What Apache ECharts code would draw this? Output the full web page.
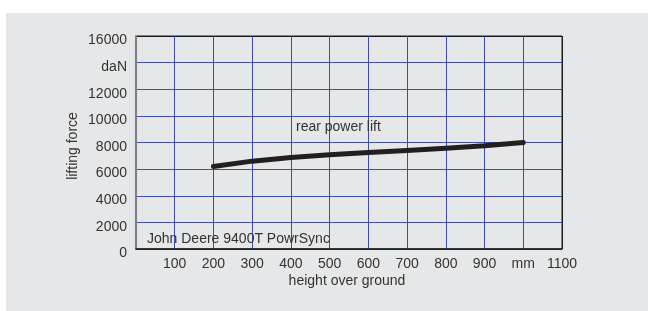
<!DOCTYPE html>
<html>
<head>
<meta charset="utf-8">
<script src="https://cdn.jsdelivr.net/npm/echarts@6/dist/echarts.min.js"></script>
<style>
    html, body { margin: 0; padding: 0; background: #ffffff; }
</style>
</head>
<body>
<div id="main" style="width: 648px; height: 311px;"></div>
<script type="text/javascript">
    // lifting force curve
    var heights = [200, 300, 400, 500, 600, 700, 800, 900, 1000];
    var forces = [6200, 6600, 6880, 7080, 7240, 7390, 7570, 7750, 8000];
    // axis labels (1000 and 14000 carry the units)
    var xLabels = {0: '', 100: '100', 200: '200', 300: '300', 400: '400', 500: '500', 600: '600',
        700: '700', 800: '800', 900: '900', 1000: 'mm', 1100: '1100'};
    var yLabels = {0: '0', 2000: '2000', 4000: '4000', 6000: '6000', 8000: '8000',
        10000: '10000', 12000: '12000', 14000: 'daN', 16000: '16000'};

    var font = '"Liberation Sans", Arial, sans-serif';
    var textColor = '#333333';
    var gridBlue = '#3d4da8';
    var border = '#1a1a1a';

    // split line colours in turn: last line sits on the black frame
    var xLineColors = [];
    for (var i = 0; i < 11; i++) xLineColors.push(gridBlue);
    xLineColors.push(border);
    var yLineColors = [];
    for (var j = 0; j < 8; j++) yLineColors.push(gridBlue);
    yLineColors.push(border);

    var myChart = echarts.init(document.getElementById('main'));
    var option = {
        animation: false,
        textStyle: {fontFamily: font},
        grid: {
            left: 136,
            top: 36,
            right: 86,
            bottom: 62,
            show: true,
            borderColor: border,
            borderWidth: 1,
            backgroundColor: 'transparent'
        },
        graphic: [
            {
                type: 'rect', z: -10, silent: true,
                shape: {x: 6, y: 13, width: 642, height: 298},
                style: {fill: '#e6e7e8'}
            },
            {
                type: 'text', z: 10, x: 296, y: 127,
                style: {text: 'rear power lift', font: '14px ' + font, fill: textColor,
                    textVerticalAlign: 'middle'}
            },
            {
                type: 'text', z: 10, x: 147, y: 239,
                style: {text: 'John Deere 9400T PowrSync', font: '14px ' + font, fill: textColor,
                    textVerticalAlign: 'middle'}
            },
            {
                type: 'text', z: 10, x: 73, y: 146, rotation: Math.PI / 2,
                style: {text: 'lifting force', font: '14px ' + font, fill: textColor,
                    textAlign: 'center', textVerticalAlign: 'middle'}
            },
            {
                type: 'text', z: 10, x: 347, y: 281,
                style: {text: 'height over ground', font: '14px ' + font, fill: textColor,
                    textAlign: 'center', textVerticalAlign: 'middle'}
            }
        ],
        xAxis: {
            type: 'value',
            min: 0,
            max: 1100,
            interval: 100,
            axisLine: {show: true, lineStyle: {color: border, width: 1.5}},
            axisTick: {show: false},
            axisLabel: {
                margin: 8,
                fontSize: 14,
                color: textColor,
                fontFamily: font,
                showMaxLabel: true,
                formatter: function (v) { return xLabels[v] !== undefined ? xLabels[v] : ''; }
            },
            splitLine: {show: true, lineStyle: {color: xLineColors, width: 1}}
        },
        yAxis: {
            type: 'value',
            min: 0,
            max: 16000,
            interval: 2000,
            axisLine: {show: true, lineStyle: {color: '#808080', width: 2}},
            axisTick: {show: false},
            axisLabel: {
                margin: 9,
                fontSize: 14,
                color: textColor,
                fontFamily: font,
                verticalAlign: 'top',
                lineHeight: 9,
                formatter: function (v) { return yLabels[v] !== undefined ? yLabels[v] : ''; }
            },
            splitLine: {show: true, lineStyle: {color: yLineColors, width: 1}}
        },
        series: [
            {
                name: 'rear power lift',
                type: 'line',
                showSymbol: false,
                symbol: 'none',
                z: 5,
                lineStyle: {color: '#231f20', width: 5, cap: 'round', join: 'round'},
                data: heights.map(function (h, i) { return [h, forces[i]]; })
            }
        ]
    };
    myChart.setOption(option);
</script>
</body>
</html>
